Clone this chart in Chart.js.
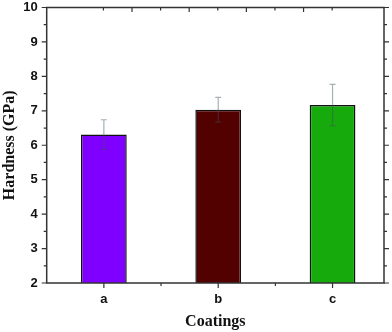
<!DOCTYPE html>
<html>
<head>
<meta charset="utf-8">
<script src="https://cdn.jsdelivr.net/npm/chart.js@4/dist/chart.umd.min.js"></script>
<style>
  html, body { margin: 0; padding: 0; background: #fff; }
  #wrap { width: 392px; height: 332px; }
</style>
</head>
<body>
<div id="wrap"><canvas id="hardChart"></canvas></div>
<script>
/* ===== DATA ===== */
const CATEGORIES = ['a', 'b', 'c'];
const HARDNESS   = [6.31, 7.03, 7.17];   // GPa
const ERRORS     = [0.43, 0.36, 0.60];   // +/- GPa
const BAR_COLORS = ['#7f00ff', '#520000', '#16aa0c'];
const Y_MIN = 2, Y_MAX = 10, Y_STEP = 1;

/* ===== HELPERS ===== */
const SANS  = "'Liberation Sans', Arial, sans-serif";
const SERIF = "'Liberation Serif', 'Times New Roman', serif";
const FRAME = '#333';

// error bars drawn through the y scale
const errorBars = {
  id: 'errorBars',
  afterDatasetsDraw(chart) {
    const ctx = chart.ctx, y = chart.scales.y;
    const meta = chart.getDatasetMeta(0);
    ctx.save();
    ctx.strokeStyle = 'rgba(60,80,90,0.45)';
    ctx.lineWidth = 1.2;
    meta.data.forEach((bar, i) => {
      const top = y.getPixelForValue(HARDNESS[i] + ERRORS[i]);
      const bot = y.getPixelForValue(HARDNESS[i] - ERRORS[i]);
      ctx.beginPath();
      ctx.moveTo(bar.x, top); ctx.lineTo(bar.x, bot);
      ctx.moveTo(bar.x - 3, top); ctx.lineTo(bar.x + 3, top);
      ctx.moveTo(bar.x - 3, bot); ctx.lineTo(bar.x + 3, bot);
      ctx.stroke();
    });
    ctx.restore();
  }
};

// frame box + tick marks on all four sides (Origin style)
const frameTicks = {
  id: 'frameTicks',
  afterDraw(chart) {
    const ctx = chart.ctx, a = chart.chartArea;
    const {x, y, x2} = chart.scales;
    ctx.save();
    ctx.strokeStyle = FRAME;
    ctx.lineWidth = 1.5;
    ctx.strokeRect(a.left, a.top, a.right - a.left, a.bottom - a.top);
    ctx.lineWidth = 1.2;
    ctx.beginPath();
    // left + right
    for (let v = Y_MIN; v <= Y_MAX; v += Y_STEP / 2) {
      const py = y.getPixelForValue(v);
      const len = Number.isInteger(v) ? 5 : 3;
      ctx.moveTo(a.left - len, py); ctx.lineTo(a.left, py);
      ctx.moveTo(a.right, py); ctx.lineTo(a.right + len, py);
    }
    // bottom
    for (let v = 0; v <= CATEGORIES.length - 1; v += 0.5) {
      const px = x.getPixelForValue(v);
      const len = Number.isInteger(v) ? 5 : 3;
      ctx.moveTo(px, a.bottom); ctx.lineTo(px, a.bottom + len);
    }
    // top (inward)
    for (let v = 1; v < x2.max; v++) {
      const px = x2.getPixelForValue(v);
      const len = v % 2 === 0 ? 4.5 : 3;
      ctx.moveTo(px, a.top); ctx.lineTo(px, a.top + len);
    }
    ctx.stroke();
    ctx.restore();
  }
};

/* ===== CHART ===== */
new Chart(document.getElementById('hardChart'), {
  type: 'bar',
  data: {
    datasets: [{
      data: CATEGORIES.map((c, i) => ({x: i, y: HARDNESS[i]})),
      backgroundColor: BAR_COLORS,
      borderColor: '#111',
      borderWidth: 1.5,
      categoryPercentage: 1,
      barPercentage: 0.4
    }]
  },
  options: {
    responsive: true,
    maintainAspectRatio: false,
    animation: false,
    layout: {padding: {top: 7.5, right: 8, left: 0, bottom: 0}},
    plugins: {legend: {display: false}, tooltip: {enabled: false}},
    scales: {
      x: {
        type: 'linear', position: 'bottom', offset: false,
        min: -0.5, max: 2.45,
        afterBuildTicks: s => { s.ticks = CATEGORIES.map((_, i) => ({value: i})); },
        afterFit: s => { s.height = 49; s.paddingLeft = 0; s.paddingRight = 0; },
        grid: {display: false, drawTicks: false, offset: false}, border: {display: false},
        ticks: {
          callback: v => CATEGORIES[v],
          font: {family: SANS, size: 13, weight: 'bold'},
          color: '#111', padding: 9, maxRotation: 0
        },
        title: {
          display: true, text: 'Coatings', color: '#111',
          font: {family: SERIF, size: 16, weight: 'bold'},
          padding: {top: 4, bottom: 1}
        }
      },
      x2: {type: 'linear', position: 'top', display: false, min: 0, max: 9.83},
      y: {
        min: Y_MIN, max: Y_MAX,
        afterFit: s => { s.width = 46.7; s.paddingTop = 0; s.paddingBottom = 0; },
        grid: {display: false, drawTicks: false}, border: {display: false},
        ticks: {
          stepSize: Y_STEP,
          font: {family: SANS, size: 13, weight: 'bold'},
          color: '#111', padding: 9
        },
        title: {
          display: true, text: 'Hardness (GPa)', color: '#111',
          font: {family: SERIF, size: 16, weight: 'bold'},
          padding: {top: 0, bottom: 0}
        }
      }
    }
  },
  plugins: [errorBars, frameTicks]
});
</script>
</body>
</html>
